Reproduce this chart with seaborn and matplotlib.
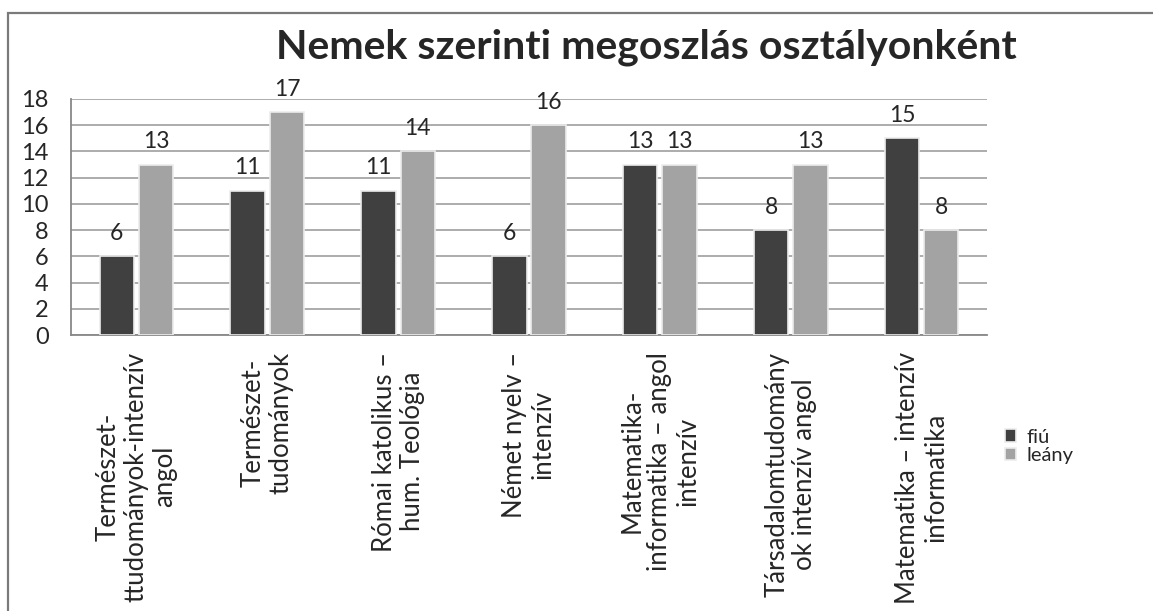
import numpy as np
import pandas as pd
import seaborn as sns
import matplotlib.pyplot as plt
from matplotlib.patches import Rectangle

categories = [
    "Természet-\nttudományok-intenzív\nangol",
    "Természet-\ntudományok",
    "Római katolikus –\nhum. Teológia",
    "Német nyelv –\nintenzív",
    "Matematika-\ninformatika – angol\nintenzív",
    "Társadalomtudomány\nok intenzív angol",
    "Matematika – intenzív\ninformatika",
]
fiu = [6, 11, 11, 6, 13, 8, 15]
leany = [13, 17, 14, 16, 13, 13, 8]
series = ["fiú", "leány"]
colors = {"fiú": "#404040", "leány": "#a3a3a3"}

df = pd.DataFrame({
    "osztaly": categories * 2,
    "nem": ["fiú"] * len(fiu) + ["leány"] * len(leany),
    "db": fiu + leany,
})

sns.set_style("white")
plt.rcParams["font.family"] = ["Lato", "DejaVu Sans"]

fig = plt.figure(figsize=(11.53, 6.11), dpi=100)
ax = fig.add_axes([0.0616, 0.4517, 0.7944, 0.3863])

sns.barplot(data=df, x="osztaly", y="db", hue="nem", order=categories,
            hue_order=series, palette=colors, width=0.6, gap=0.12,
            edgecolor="#ececec", linewidth=1.2, ax=ax, zorder=3)

for cont in ax.containers:
    ax.bar_label(cont, padding=9, fontsize=16.5)

ax.set_ylim(0, 18)
ax.set_yticks(np.arange(0, 19, 2))
ax.set_xlim(-0.5, len(categories) - 0.5)
ax.yaxis.grid(True, color="#a6a6a6", linewidth=1.3, zorder=0)
ax.set_axisbelow(True)
ax.set_xlabel("")
ax.set_ylabel("")

ax.set_xticks(range(len(categories)))
ax.set_xticklabels(categories, rotation=90, ha="center", va="top",
                   multialignment="center", fontsize=18.5, linespacing=1.15)
ax.tick_params(axis="x", length=0, pad=12)
ax.set_xticks(np.arange(-0.5, len(categories), 1), minor=True)
ax.tick_params(axis="x", which="minor", length=7, color="#888888", width=1.2)
ax.tick_params(axis="y", length=7, color="#888888", width=1.2, labelsize=17, pad=9)

for s in ["top", "right"]:
    ax.spines[s].set_visible(False)
for s in ["left", "bottom"]:
    ax.spines[s].set_color("#888888")
    ax.spines[s].set_linewidth(1.3)

leg = ax.legend(loc="upper left", bbox_to_anchor=(1.0, -0.32), frameon=False,
                fontsize=14.5, handlelength=0.55, handleheight=0.55,
                handletextpad=0.5, labelspacing=0.06)

fig.text(0.561, 0.922, "Nemek szerinti megoszlás osztályonként",
         ha="center", va="center", fontsize=29.5, fontweight="bold")

fig.patches.append(Rectangle((8 / 1153, -1.0), 3.0, 2.0 - 13 / 611,
                             transform=fig.transFigure, fill=False,
                             edgecolor="#7a7a7a", linewidth=1.6))

fig.savefig("out.png", dpi=100)
